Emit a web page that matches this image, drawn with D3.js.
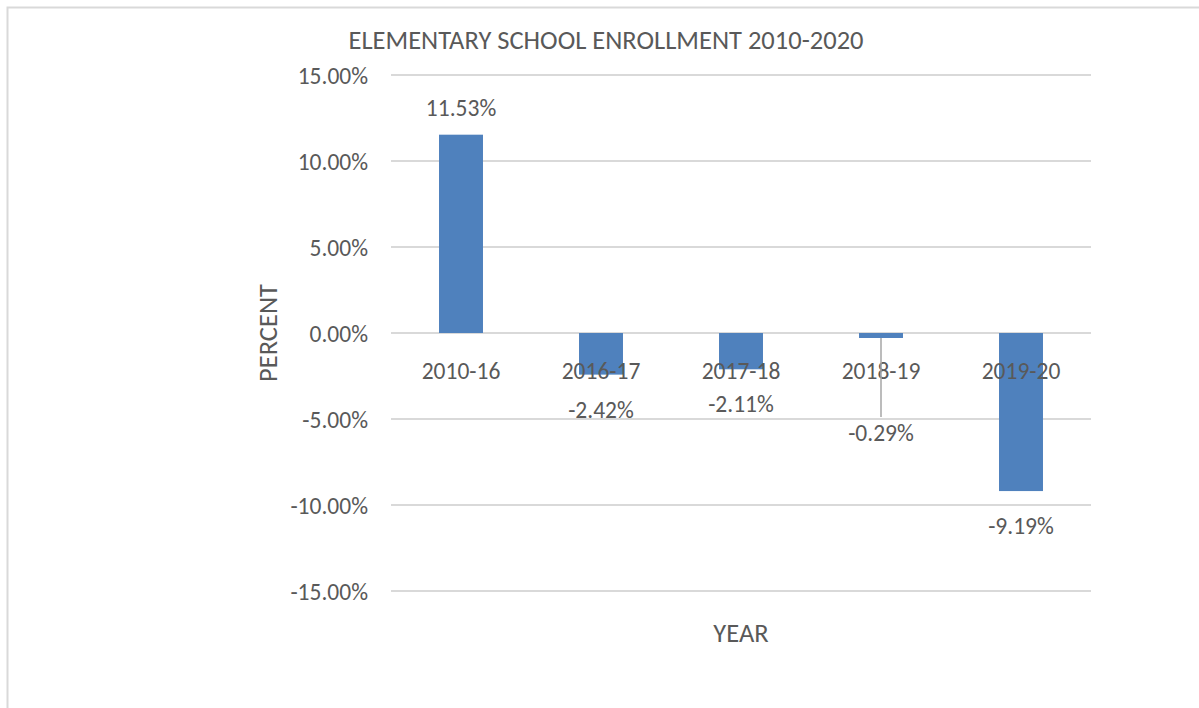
<!DOCTYPE html>
<html>
<head>
<meta charset="utf-8">
<script src="https://cdn.jsdelivr.net/npm/d3@7"></script>
<style>
  body { margin: 0; background: #fff; }
  text { font-family: Carlito, Calibri, Lato, sans-serif; fill: #595959; }
</style>
</head>
<body>
<script>
// Chart data
const years = ["2010-16", "2016-17", "2017-18", "2018-19", "2019-20"];
const changes = [11.53, -2.42, -2.11, -0.29, -9.19];
const yTicks = [15, 10, 5, 0, -5, -10, -15];

const width = 1199;
const height = 708;
const plot = { left: 391, right: 1091, top: 75, bottom: 591 };
const labelSize = 23.5;
const titleSize = 26.5;

const svg = d3.select("body")
  .append("svg")
  .attr("width", width)
  .attr("height", height);

// chart border (only top/left visible in the frame)
svg.append("rect")
  .attr("x", 7.5).attr("y", 7.5)
  .attr("width", width + 20).attr("height", height + 20)
  .attr("fill", "none")
  .attr("stroke", "#d9d9d9")
  .attr("stroke-width", 2);

const x = d3.scaleBand()
  .domain(years)
  .range([plot.left, plot.right])
  .paddingInner(0.686)
  .paddingOuter(0.343);

const y = d3.scaleLinear()
  .domain([-15, 15])
  .range([plot.bottom, plot.top]);

// gridlines
svg.append("g")
  .selectAll("line")
  .data(yTicks)
  .join("line")
  .attr("x1", plot.left)
  .attr("x2", plot.right)
  .attr("y1", d => y(d))
  .attr("y2", d => y(d))
  .attr("stroke", "#d9d9d9")
  .attr("stroke-width", 2);

// y axis labels
const yAxis = d3.axisLeft(y)
  .tickValues(yTicks)
  .tickFormat(d => d.toFixed(2) + "%")
  .tickSize(0)
  .tickPadding(23);

svg.append("g")
  .attr("transform", `translate(${plot.left},0)`)
  .call(yAxis)
  .call(g => g.select(".domain").remove())
  .attr("font-family", null)
  .attr("font-size", labelSize)
  .selectAll("text")
  .attr("dy", null)
  .attr("dominant-baseline", "central")
  .attr("fill", "#595959");

// bars
svg.append("g")
  .selectAll("rect")
  .data(years)
  .join("rect")
  .attr("x", (d) => x(d))
  .attr("y", (d, i) => y(Math.max(0, changes[i])))
  .attr("width", x.bandwidth())
  .attr("height", (d, i) => Math.abs(y(changes[i]) - y(0)))
  .attr("fill", "#4f81bd");

// category labels, sitting just under the zero line
const catY = y(0) + 38;
svg.append("g")
  .selectAll("text")
  .data(years)
  .join("text")
  .attr("x", (d) => x(d) + x.bandwidth() / 2)
  .attr("y", catY)
  .attr("text-anchor", "middle")
  .attr("dominant-baseline", "central")
  .attr("font-size", labelSize)
  .text((d) => d);

// data labels; a label that would collide with the category label is pushed down with a leader line
const labels = svg.append("g");
changes.forEach((v, i) => {
  const cx = x(years[i]) + x.bandwidth() / 2;
  let ly = v >= 0 ? y(v) - 27 : y(v) + 35;
  if (v < 0 && Math.abs(ly - catY) < 26) {
    labels.append("line")
      .attr("x1", cx).attr("x2", cx)
      .attr("y1", y(v)).attr("y2", y(-5) - 2)
      .attr("stroke", "#a6a6a6")
      .attr("stroke-width", 1.5);
    ly = y(-5) + 14;
  }
  labels.append("text")
    .attr("x", cx)
    .attr("y", ly)
    .attr("text-anchor", "middle")
    .attr("dominant-baseline", "central")
    .attr("font-size", labelSize)
    .attr("fill", "#404040")
    .text(v.toFixed(2) + "%");
});

// title
svg.append("text")
  .attr("x", 606)
  .attr("y", 40)
  .attr("text-anchor", "middle")
  .attr("dominant-baseline", "central")
  .attr("font-size", titleSize)
  .text("ELEMENTARY SCHOOL ENROLLMENT 2010-2020");

// axis titles
svg.append("text")
  .attr("transform", `translate(268,${y(0)}) rotate(-90)`)
  .attr("text-anchor", "middle")
  .attr("dominant-baseline", "central")
  .attr("font-size", titleSize)
  .text("PERCENT");

svg.append("text")
  .attr("x", 741)
  .attr("y", 633)
  .attr("text-anchor", "middle")
  .attr("dominant-baseline", "central")
  .attr("font-size", titleSize)
  .text("YEAR");
</script>
</body>
</html>
